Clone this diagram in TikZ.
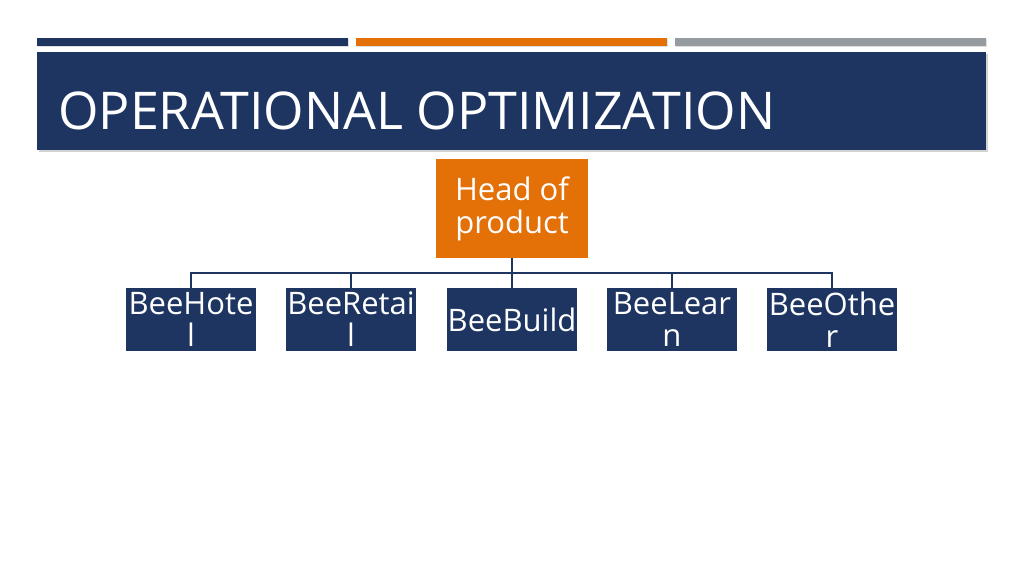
\documentclass[tikz,border=0pt]{standalone}
\usepackage{fontspec}
\setmainfont{Open Sans}
\usetikzlibrary{shadows}
\definecolor{beenavy}{RGB}{30, 53, 98}
\definecolor{beeorange}{RGB}{228, 112, 8}
\definecolor{beegray}{RGB}{150, 155, 160}

\tikzset{
  topbar/.style={drop shadow={opacity=0.25, shadow xshift=1pt, shadow yshift=-1pt}},
  headbox/.style={fill=beeorange, text=white, minimum width=152pt, minimum height=99pt,
    align=center, inner sep=0pt, font=\fontsize{31}{33}\selectfont},
  childbox/.style={fill=beenavy, text=white, minimum width=130pt, minimum height=63pt,
    align=center, inner sep=0pt, font=\fontsize{31}{32}\selectfont},
  link/.style={draw=beenavy, line width=1.6pt}
}

\begin{document}
\begin{tikzpicture}[x=1pt, y=-1pt]
            \useasboundingbox[fill=white] (0,0) rectangle (1024,575);

            % Top bars
            \fill[beenavy, topbar] (37,38) rectangle (348,46);
            \fill[beeorange, topbar] (356,38) rectangle (667,46);
            \fill[beegray, topbar] (675,38) rectangle (986,46);

            % Title banner
            \fill[beenavy, drop shadow={opacity=0.35, shadow xshift=1.5pt, shadow yshift=-2pt}] (37,52) rectangle (986,150);
            \node[anchor=base west, text=white, inner sep=0pt, font=\fontsize{52}{58}\selectfont] (title) at (58,129) {OPERATIONAL OPTIMIZATION};

            % Head
            \node[headbox] (head) at (512,208.5) {Head of\\product};

            % Products
            \node[childbox] (hotel) at (191,319.5) {BeeHote\\l};
            \node[childbox] (retail) at (351,319.5) {BeeRetai\\l};
            \node[childbox] (build) at (512,319.5) {BeeBuild};
            \node[childbox] (learn) at (672,319.5) {BeeLear\\n};
            \node[childbox] (other) at (832,319.5) {BeeOthe\\r};

            % Connectors
            \coordinate (bus) at (512,273);
            \draw[link] (head.south) -- (bus);
            \foreach \b in {hotel, retail, build, learn, other}
              \draw[link] (bus) -| (\b.north);
        \end{tikzpicture}
\end{document}
